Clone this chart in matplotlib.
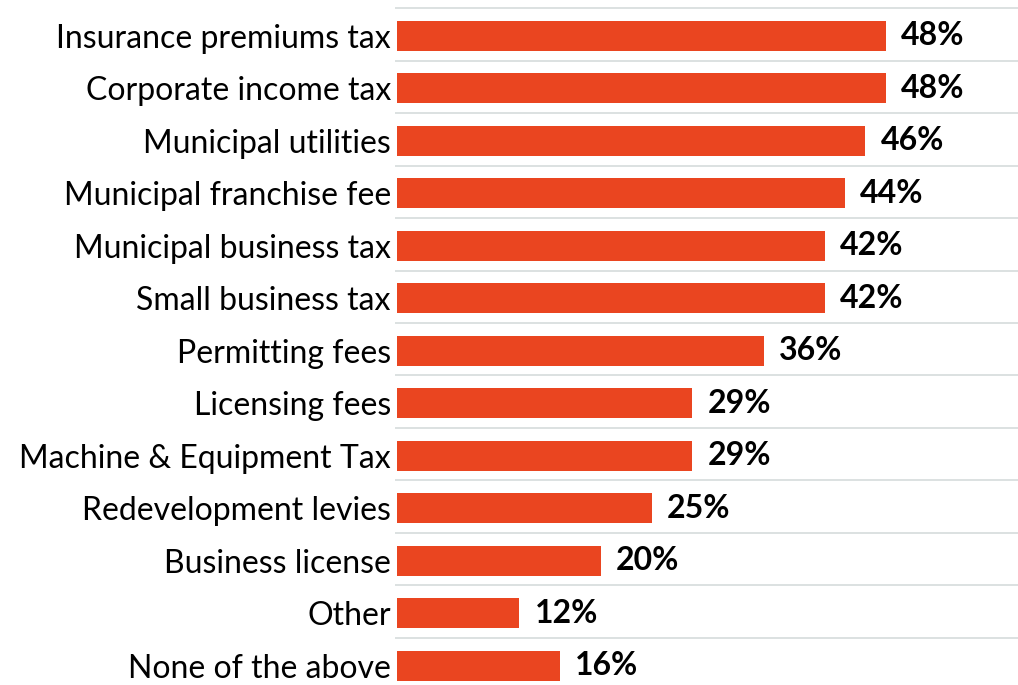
import matplotlib.pyplot as plt
import matplotlib
matplotlib.rcParams['font.family'] = 'Lato'

# data
categories = ['Insurance premiums tax', 'Corporate income tax', 'Municipal utilities',
              'Municipal franchise fee', 'Municipal business tax', 'Small business tax',
              'Permitting fees', 'Licensing fees', 'Machine & Equipment Tax',
              'Redevelopment levies', 'Business license', 'Other', 'None of the above']
values = [48, 48, 46, 44, 42, 42, 36, 29, 29, 25, 20, 12, 16]

fig = plt.figure(figsize=(10.18, 6.85), dpi=100)
ax = fig.add_axes([395 / 1018, 0, 1 - 395 / 1018, 1])

y = list(range(len(categories)))
ax.barh(y, values, height=0.572, color='#EA4520', left=0)

for yi, v in zip(y, values):
    ax.text(v + 1.5, yi, f'{v}%', va='center', ha='left',
            fontsize=23, fontweight='bold', color='black')

ax.set_yticks(y)
ax.set_yticklabels(categories, fontsize=23)
# gridlines between rows
ax.set_yticks([i - 0.53 for i in range(len(categories) + 1)], minor=True)
ax.tick_params(axis='y', which='both', length=0, pad=3)
ax.grid(True, axis='y', which='minor', color='#D6DCDB', linewidth=1.2)
ax.set_axisbelow(True)

ax.set_xticks([])
ax.set_xlim(-0.2, 61)
ax.set_ylim(12.37, -0.686)
for s in ax.spines.values():
    s.set_visible(False)

fig.savefig('out.png', dpi=100)
